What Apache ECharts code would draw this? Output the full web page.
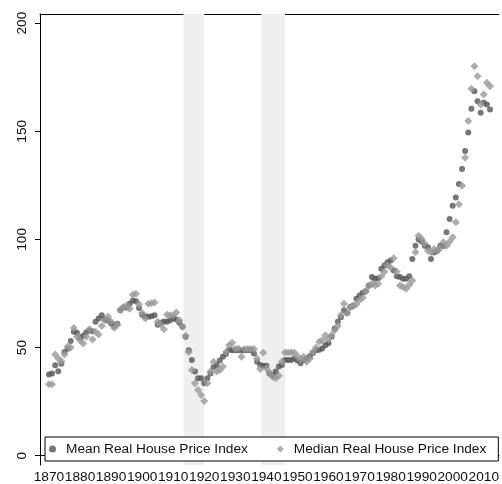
<!DOCTYPE html>
<html>
<head>
<meta charset="utf-8">
<script src="https://cdn.jsdelivr.net/npm/echarts@6/dist/echarts.min.js"></script>
<style>html,body{margin:0;padding:0;background:#fff}#c{width:502px;height:484px}</style>
</head>
<body>
<div id="c"></div>
<script>
const startYear = 1870;
const meanIndex = [
37.5,38,41.8,39,42.5,48,49.5,53,57.3,56.8,
54.5,55.5,57,58,57.5,61.9,63.4,64.9,63,62.5,
61.1,60,61,67.2,68.5,68.5,70.3,71.8,71.4,68.3,
65.2,64.5,64.2,64.5,64.9,60.6,61.5,62,61.9,62.6,
63.4,63,61.5,59.6,55,48.8,44.2,38.9,35.8,35.8,
33.5,35.8,38,41,41.9,44,45.8,47,49,48.8,
48.8,48.8,48.8,48.8,48.8,48.8,47.3,43.5,42,41.6,
41.6,38,37.3,38.9,41.2,42,44.2,44.2,44.2,45,
44,42.7,44.2,45,46,47.5,48.8,49,49.6,51.1,
52,55,58.8,61.9,64,67.2,66,68.8,69.5,72.6,
74.1,75.4,76,78.7,82.6,81.8,82,86.4,87.9,89.5,
90.2,85.6,83,82.6,81.8,81.8,83,91,97.1,100,
99,97.1,96.4,91,94,94.8,97.1,97,103.3,109.4,
115.6,119.4,125.6,132.5,140.9,149.4,160.4,168.5,163.9,158.6,
163.2,162.4,160.1
];
const medianIndex = [
33,33,46.8,45,43.7,46.8,50.5,50,59.1,55,
53.4,51.9,55,58.5,53.7,57.3,56,60,62.6,64.2,
61.9,59.1,60.6,67.5,68.8,69.5,68,74.4,74.9,70,
66,63.4,70.3,70.5,70.8,61.9,60.5,58.5,65.2,64.9,
64.9,66.2,62.6,59.6,55.5,48,39.6,33.5,30.4,28.1,
25.3,33.5,38.9,43.5,38.9,39.6,41.2,48,51.1,52.2,
49.5,49.6,45.8,49.3,49.3,49.3,49.3,45,40.1,47.6,
40.5,38.5,36.5,35.8,37,43.5,47.7,47.7,47.7,47.7,
46,44.5,45.8,43.5,45,48,50,52.7,53.4,55.7,
54,55.7,58,60,64.9,70.3,66,68.5,69.2,70,
72,73,76,78.5,79.5,78.7,79.5,83,85,88,
87,91.3,85,78.7,78,77.2,79,81,94.1,101.7,
100.2,98,94.8,94.1,95.6,94.8,96,98.7,97.1,99,
101,107.9,116.3,124.8,137.8,154.7,169.6,180,175.4,162.4,
167,172.4,170.8
];
const xTicks = [1870,1880,1890,1900,1910,1920,1930,1940,1950,1960,1970,1980,1990,2000,2010];
const yTicks = [0,50,100,150,200];
const warBands = [[1913.3,1920],[1938.4,1946]];
const seriesNames = ['Mean Real House Price Index','Median Real House Price Index'];

const meanData = meanIndex.map((v,i)=>[startYear+i, v]);
const medianData = medianIndex.map((v,i)=>[startYear+i, v]);
const FONT = 'Liberation Sans, Arial, sans-serif';

const chart = echarts.init(document.getElementById('c'), null, {renderer:'canvas'});
chart.setOption({
  animation:false,
  backgroundColor:'#fff',
  grid:{left:40, right:1, top:14, bottom:17, containLabel:false},
  legend:{
    left:45, top:437,
    orient:'horizontal',
    data:[{name:seriesNames[0], icon:'circle'},{name:seriesNames[1], icon:'diamond'}],
    itemWidth:7, itemHeight:7, itemGap:29,
    padding:[5,12,5,4],
    borderColor:'#000', borderWidth:1, backgroundColor:'#fff',
    textStyle:{fontFamily:FONT, fontSize:13.7, color:'#111', padding:[0,0,0,5]},
    selectedMode:false
  },
  xAxis:[{
    type:'value', min:1867.115, max:2014.87,
    axisLine:{show:true, lineStyle:{color:'#000', width:1}},
    axisTick:{show:true, length:5, customValues:xTicks, lineStyle:{color:'#000'}},
    axisLabel:{show:true, customValues:xTicks, margin:5, hideOverlap:false,
      formatter:v=>String(v), fontFamily:FONT, fontSize:13.7, color:'#111'},
    splitLine:{show:false}
  },{
    type:'value', position:'top', min:1867.115, max:2014.87,
    axisLine:{show:true, onZero:false, lineStyle:{color:'#000', width:1}},
    axisTick:{show:false}, axisLabel:{show:false}, splitLine:{show:false}
  }],
  yAxis:{
    type:'value', min:-4.28, max:204.2,
    axisLine:{show:true, lineStyle:{color:'#000', width:1}},
    axisTick:{show:true, length:5, customValues:yTicks, lineStyle:{color:'#000'}},
    axisLabel:{show:true, customValues:yTicks, rotate:90, margin:11, hideOverlap:false,
      formatter:v=>String(v), fontFamily:FONT, fontSize:13.7, color:'#111'},
    splitLine:{show:false}
  },
  series:[{
    name:seriesNames[0], type:'scatter', symbol:'circle', symbolSize:6,
    itemStyle:{color:'#555555'},
    data:meanData,
    markArea:{silent:true, itemStyle:{color:'#efefef'},
      data:warBands.map(b=>[{xAxis:b[0]},{xAxis:b[1]}])}
  },{
    name:seriesNames[1], type:'scatter', symbol:'diamond', symbolSize:8,
    itemStyle:{color:'#999999'},
    data:medianData
  }]
});
</script>
</body>
</html>
